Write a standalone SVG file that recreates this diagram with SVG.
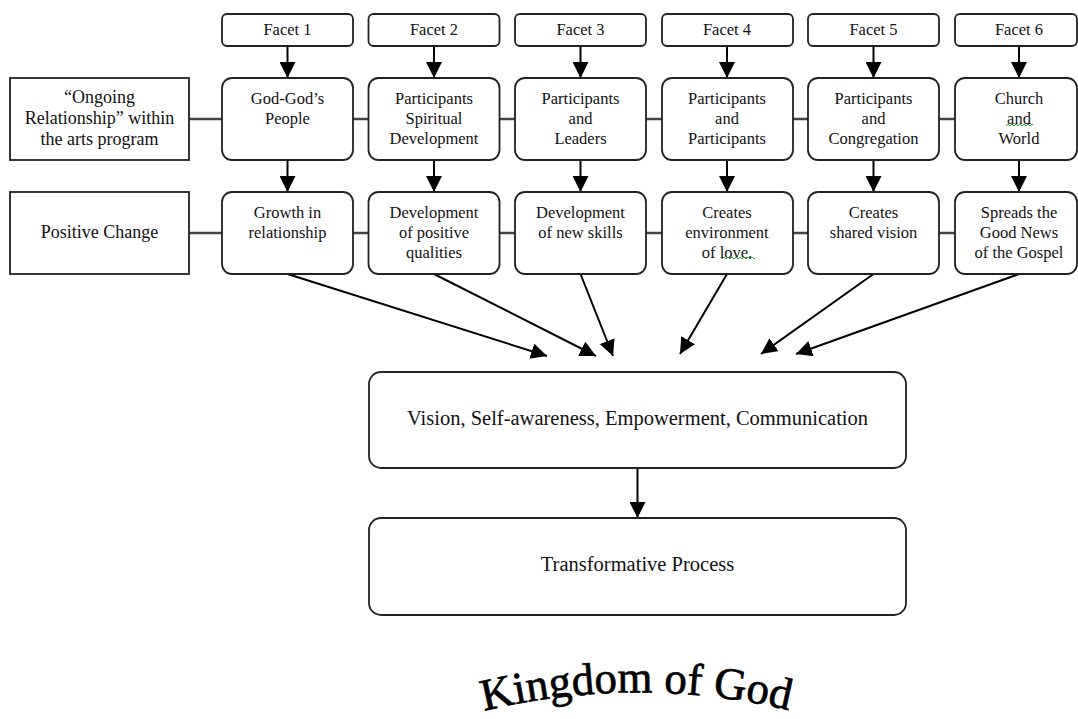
<svg xmlns="http://www.w3.org/2000/svg" width="1078" height="719" viewBox="0 0 1078 719">
<defs>
<style>
.box{fill:#fff;stroke:#222;stroke-width:1.8}
.t{font-family:"Liberation Serif","Times New Roman",serif;font-size:16.5px;fill:#111;text-anchor:middle}
.tl{font-family:"Liberation Serif","Times New Roman",serif;font-size:18px;fill:#111;text-anchor:middle}
.tb{font-family:"Liberation Serif","Times New Roman",serif;font-size:20.5px;fill:#111;text-anchor:middle}
.arr{stroke:#000;stroke-width:2;fill:none;marker-end:url(#ah)}
.hl{stroke:#444;stroke-width:2.5;fill:none}
.sq{stroke:#3a3;stroke-width:1;fill:none}
</style>
<marker id="ah" viewBox="0 0 16 16" refX="16" refY="8" markerWidth="16" markerHeight="16" markerUnits="userSpaceOnUse" orient="auto">
<path d="M0,0 L16,8 L0,16 z" fill="#000"/>
</marker>
<path id="arc" d="M484,711 A650,650 0 0 1 800,713"/>
</defs>
<rect width="1078" height="719" fill="#fff"/>

<g id="connectors">
<path class="hl" d="M189,119H222M353,119H368.5M499.5,119H515M646,119H662M793,119H808M939,119H955"/>
<path class="hl" d="M189,233H222M353,233H368.5M499.5,233H515M646,233H662M793,233H808M939,233H955"/>
<line class="arr" x1="287.5" y1="46" x2="287.5" y2="78"/>
<line class="arr" x1="434" y1="46" x2="434" y2="78"/>
<line class="arr" x1="580.5" y1="46" x2="580.5" y2="78"/>
<line class="arr" x1="727" y1="46" x2="727" y2="78"/>
<line class="arr" x1="873.5" y1="46" x2="873.5" y2="78"/>
<line class="arr" x1="1019" y1="46" x2="1019" y2="78"/>
<line class="arr" x1="287.5" y1="160" x2="287.5" y2="192"/>
<line class="arr" x1="434" y1="160" x2="434" y2="192"/>
<line class="arr" x1="580.5" y1="160" x2="580.5" y2="192"/>
<line class="arr" x1="727" y1="160" x2="727" y2="192"/>
<line class="arr" x1="873.5" y1="160" x2="873.5" y2="192"/>
<line class="arr" x1="1019" y1="160" x2="1019" y2="192"/>
<line class="arr" x1="287.5" y1="274" x2="547" y2="356"/>
<line class="arr" x1="434" y1="274" x2="596" y2="356"/>
<line class="arr" x1="580.5" y1="274" x2="613" y2="356"/>
<line class="arr" x1="727" y1="274" x2="680" y2="354"/>
<line class="arr" x1="873.5" y1="274" x2="761" y2="354"/>
<line class="arr" x1="1019" y1="274" x2="796" y2="354"/>
<line class="arr" x1="637.5" y1="468" x2="637.5" y2="518"/>
</g>

<g id="facet1"><rect class="box" x="222" y="14" width="131" height="32" rx="5"/><text class="t" x="287.5" y="35">Facet 1</text></g>
<g id="facet2"><rect class="box" x="368.5" y="14" width="131" height="32" rx="5"/><text class="t" x="434" y="35">Facet 2</text></g>
<g id="facet3"><rect class="box" x="515" y="14" width="131" height="32" rx="5"/><text class="t" x="580.5" y="35">Facet 3</text></g>
<g id="facet4"><rect class="box" x="662" y="14" width="131" height="32" rx="5"/><text class="t" x="727" y="35">Facet 4</text></g>
<g id="facet5"><rect class="box" x="808" y="14" width="131" height="32" rx="5"/><text class="t" x="873.5" y="35">Facet 5</text></g>
<g id="facet6"><rect class="box" x="955" y="14" width="122" height="32" rx="5"/><text class="t" x="1019" y="35">Facet 6</text></g>

<g id="ongoing"><rect class="box" x="10" y="78" width="179" height="82"/>
<text class="tl" x="99.5" y="103">“Ongoing</text><text class="tl" x="99.5" y="124">Relationship” within</text><text class="tl" x="99.5" y="145">the arts program</text></g>
<g id="rel1"><rect class="box" x="222" y="78" width="131" height="82" rx="10"/>
<text class="t" x="287.5" y="104">God-God’s</text><text class="t" x="287.5" y="124">People</text></g>
<g id="rel2"><rect class="box" x="368.5" y="78" width="131" height="82" rx="10"/>
<text class="t" x="434" y="104">Participants</text><text class="t" x="434" y="124">Spiritual</text><text class="t" x="434" y="144">Development</text></g>
<g id="rel3"><rect class="box" x="515" y="78" width="131" height="82" rx="10"/>
<text class="t" x="580.5" y="104">Participants</text><text class="t" x="580.5" y="124">and</text><text class="t" x="580.5" y="144">Leaders</text></g>
<g id="rel4"><rect class="box" x="662" y="78" width="131" height="82" rx="10"/>
<text class="t" x="727" y="104">Participants</text><text class="t" x="727" y="124">and</text><text class="t" x="727" y="144">Participants</text></g>
<g id="rel5"><rect class="box" x="808" y="78" width="131" height="82" rx="10"/>
<text class="t" x="873.5" y="104">Participants</text><text class="t" x="873.5" y="124">and</text><text class="t" x="873.5" y="144">Congregation</text></g>
<g id="rel6"><rect class="box" x="955" y="78" width="122" height="82" rx="10"/>
<text class="t" x="1019" y="104">Church</text><text class="t" x="1019" y="124">and</text><text class="t" x="1019" y="144">World</text>
<path class="sq" d="M1006,126 l2,-2 l2,2 l2,-2 l2,2 l2,-2 l2,2 l2,-2 l2,2 l2,-2 l2,2 l2,-2 l2,2 l2,-2 l1,1"/></g>

<g id="positive"><rect class="box" x="10" y="192" width="179" height="82"/>
<text class="tl" x="99.5" y="238">Positive Change</text></g>
<g id="chg1"><rect class="box" x="222" y="192" width="131" height="82" rx="10"/>
<text class="t" x="287.5" y="218">Growth in</text><text class="t" x="287.5" y="238">relationship</text></g>
<g id="chg2"><rect class="box" x="368.5" y="192" width="131" height="82" rx="10"/>
<text class="t" x="434" y="218">Development</text><text class="t" x="434" y="238">of positive</text><text class="t" x="434" y="258">qualities</text></g>
<g id="chg3"><rect class="box" x="515" y="192" width="131" height="82" rx="10"/>
<text class="t" x="580.5" y="218">Development</text><text class="t" x="580.5" y="238">of new skills</text></g>
<g id="chg4"><rect class="box" x="662" y="192" width="131" height="82" rx="10"/>
<text class="t" x="727" y="218">Creates</text><text class="t" x="727" y="238">environment</text><text class="t" x="727" y="258">of love.</text>
<path class="sq" d="M722,259 l2,-2 l2,2 l2,-2 l2,2 l2,-2 l2,2 l2,-2 l2,2 l2,-2 l2,2 l2,-2 l2,2 l2,-2 l2,2 l2,-2 l2,2 l1,-1"/></g>
<g id="chg5"><rect class="box" x="808" y="192" width="131" height="82" rx="10"/>
<text class="t" x="873.5" y="218">Creates</text><text class="t" x="873.5" y="238">shared vision</text></g>
<g id="chg6"><rect class="box" x="955" y="192" width="122" height="82" rx="10"/>
<text class="t" x="1019" y="218">Spreads the</text><text class="t" x="1019" y="238">Good News</text><text class="t" x="1019" y="258">of the Gospel</text></g>

<g id="vision"><rect class="box" x="369" y="372" width="537" height="96" rx="12"/>
<text class="tb" x="637.5" y="425">Vision, Self-awareness, Empowerment, Communication</text></g>
<g id="transform"><rect class="box" x="369" y="518" width="537" height="97" rx="12"/>
<text class="tb" x="637.5" y="571">Transformative Process</text></g>

<g id="kingdom">
<text font-family="'Liberation Serif','Times New Roman',serif" font-size="45" fill="#000" stroke="#000" stroke-width="0.7"><textPath href="#arc">Kingdom of God</textPath></text>
</g>
</svg>
